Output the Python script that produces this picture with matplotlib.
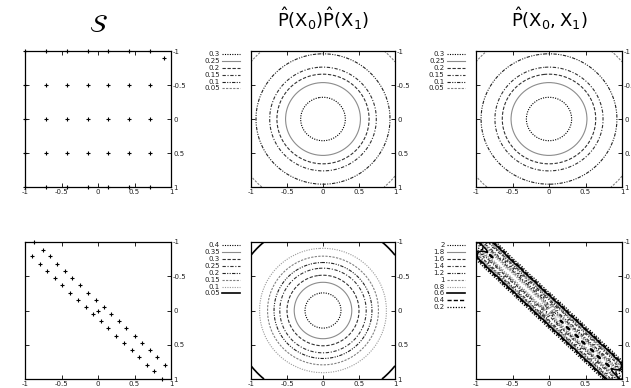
import numpy as np
import matplotlib
matplotlib.use('Agg')
import matplotlib.pyplot as plt
from matplotlib.lines import Line2D

plt.rcParams['axes.unicode_minus'] = False
plt.rcParams['mathtext.fontset'] = 'dejavusans'

# ---------------- data ----------------
tick_vals = [-1, -0.5, 0, 0.5, 1]
tick_labels = ['-1', '-0.5', '0', '0.5', '1']

# top-left sample S (grid)
grid_x = [-1.0, -0.71, -0.43, -0.14, 0.14, 0.43, 0.71]
grid_y = [-1.0, -0.5, 0.0, 0.5, 1.0]
key_x = [0.90]
key_y = [-0.90]

# bottom-left sample S (two diagonal rows)
lineA_x = [-0.91, -0.80, -0.70, -0.59, -0.49, -0.38, -0.28, -0.17, -0.07,
           0.04, 0.14, 0.25, 0.35, 0.46, 0.56, 0.67, 0.77, 0.88]
lineA_y = [-0.79, -0.68, -0.58, -0.47, -0.37, -0.26, -0.16, -0.05, 0.05,
           0.16, 0.26, 0.37, 0.47, 0.58, 0.68, 0.79, 0.89, 1.00]
lineB_x = [-0.87, -0.76, -0.66, -0.56, -0.45, -0.35, -0.24, -0.14, -0.03,
           0.08, 0.18, 0.29, 0.39, 0.50, 0.60, 0.71, 0.81, 0.92]
lineB_y = [-1.00, -0.89, -0.79, -0.68, -0.58, -0.47, -0.37, -0.26, -0.16,
           -0.05, 0.05, 0.16, 0.26, 0.37, 0.47, 0.58, 0.68, 0.79]
center_x = [0.0]
center_y = [0.0]

# contour levels and their radii
top_prod_levels = [0.3, 0.25, 0.2, 0.15, 0.1, 0.05]
top_prod_radii = [0.31, 0.52, 0.64, 0.74, 0.93, 1.29]
top_joint_levels = [0.3, 0.25, 0.2, 0.15, 0.1, 0.05]
top_joint_radii = [0.31, 0.52, 0.64, 0.74, 0.93, 1.29]
bot_prod_levels = [0.4, 0.35, 0.3, 0.25, 0.2, 0.15, 0.1, 0.05]
bot_prod_radii = [0.25, 0.40, 0.50, 0.60, 0.68, 0.77, 0.88, 1.27]
bot_joint_levels = [2, 1.8, 1.6, 1.4, 1.2, 1, 0.8, 0.6, 0.4, 0.2]
bot_joint_labels = ['2', '1.8', '1.6', '1.4', '1.2', '1', '0.8', '0.6', '0.4', '0.2']

# ---------------- styles ----------------
STYLES = [
    dict(color='black', ls=(0, (1, 1.2)), lw=0.8),
    dict(color='#8c8c8c', ls='-', lw=0.8),
    dict(color='#333333', ls=(0, (3, 1.5)), lw=0.8),
    dict(color='#333333', ls=(0, (3, 1.5, 1, 1.5)), lw=0.8),
    dict(color='#222222', ls=(0, (3, 1.2, 1, 1.2, 1, 1.2)), lw=0.8),
    dict(color='#808080', ls=(0, (2, 1.2)), lw=0.8),
    dict(color='#999999', ls=(0, (1, 1.2)), lw=0.8),
    dict(color='black', ls='-', lw=1.2),
    dict(color='black', ls=(0, (3, 1.5)), lw=1.0),
    dict(color='black', ls=(0, (1, 1.2)), lw=0.9),
]

W, H = 631, 388
fig = plt.figure(figsize=(W / 100, H / 100), dpi=100)


def add_ax(l, r, t, b):
    return fig.add_axes([l / W, 1 - b / H, (r - l) / W, (b - t) / H])


def style_ax(ax):
    ax.set_xlim(-1, 1)
    ax.set_ylim(1, -1)
    ax.set_xticks(tick_vals)
    ax.set_xticklabels(tick_labels)
    ax.set_yticks(tick_vals)
    ax.set_yticklabels(tick_labels)
    ax.tick_params(direction='in', length=3, width=0.6, top=True, right=True,
                   left=True, bottom=True, labelleft=False, labelright=True,
                   labelbottom=True, labelsize=5, pad=1.5, labelcolor='#222222')
    for s in ax.spines.values():
        s.set_linewidth(0.9)
        s.set_color('black')


cols = [(25, 171), (251, 395), (476, 622)]
rows = [(51, 187), (242, 379)]

N = 401
gx = np.linspace(-1, 1, N)
X, Y = np.meshgrid(gx, gx)
ASPECT = 1.03


def radial_field(levels, radii):
    r = np.sqrt(X ** 2 + (Y / ASPECT) ** 2)
    rr = np.array(radii)
    lv = np.array(levels)
    f = np.interp(r, rr, lv)
    f = np.where(r < rr[0], lv[0] + (rr[0] - r) * 0.2, f)
    f = np.where(r > rr[-1], lv[-1] - (r - rr[-1]) * 0.05, f)
    return f


def draw_contours(ax, Z, levels, labels):
    for i, lv in enumerate(levels):
        st = STYLES[i]
        ax.contour(X, Y, Z, levels=[lv], colors=[st['color']],
                   linestyles=[st['ls']], linewidths=[st['lw']])
    # key drawn at the left of the axes
    for i, lab in enumerate(labels):
        st = STYLES[i]
        yk = 0.975 - i * 0.05
        ax.text(-0.215, yk, lab, transform=ax.transAxes, ha='right', va='center',
                fontsize=5, color='#222222')
        ax.add_line(Line2D([-0.20, -0.075], [yk, yk], transform=ax.transAxes,
                           clip_on=False, color=st['color'], ls=st['ls'], lw=st['lw']))


# ---- top-left: grid sample
ax = add_ax(cols[0][0], cols[0][1], rows[0][0], rows[0][1])
GX, GY = np.meshgrid(grid_x, grid_y)
ax.plot(GX.ravel(), GY.ravel(), '+', color='black', ms=3.2, mew=0.8, clip_on=False)
ax.plot(key_x, key_y, '+', color='black', ms=3.2, mew=0.8)
style_ax(ax)
fig.text(98 / W, 1 - 25 / H, r'$\mathcal{S}$', fontsize=18, ha='center', va='center')

# ---- top-middle: product of marginals
ax = add_ax(cols[1][0], cols[1][1], rows[0][0], rows[0][1])
draw_contours(ax, radial_field(top_prod_levels, top_prod_radii), top_prod_levels,
              [str(v) for v in top_prod_levels])
style_ax(ax)
fig.text(323 / W, 1 - 19 / H, r'$\hat{\mathrm{P}}(\mathrm{X}_0)\hat{\mathrm{P}}(\mathrm{X}_1)$',
         fontsize=13, ha='center', va='center')

# ---- top-right: joint
ax = add_ax(cols[2][0], cols[2][1], rows[0][0], rows[0][1])
draw_contours(ax, radial_field(top_joint_levels, top_joint_radii), top_joint_levels,
              [str(v) for v in top_joint_levels])
style_ax(ax)
fig.text(549 / W, 1 - 19 / H, r'$\hat{\mathrm{P}}(\mathrm{X}_0,\mathrm{X}_1)$',
         fontsize=13, ha='center', va='center')

# ---- bottom-left: diagonal sample
ax = add_ax(cols[0][0], cols[0][1], rows[1][0], rows[1][1])
for xs, ys in [(lineA_x, lineA_y), (lineB_x, lineB_y), (center_x, center_y)]:
    ax.plot(xs, ys, '+', color='black', ms=3.2, mew=0.8, clip_on=False)
style_ax(ax)

# ---- bottom-middle: product of marginals
ax = add_ax(cols[1][0], cols[1][1], rows[1][0], rows[1][1])
draw_contours(ax, radial_field(bot_prod_levels, bot_prod_radii), bot_prod_levels,
              [str(v) for v in bot_prod_levels])
style_ax(ax)

# ---- bottom-right: joint estimate (anisotropic Parzen window on the diagonal sample)
ax = add_ax(cols[2][0], cols[2][1], rows[1][0], rows[1][1])
px = np.array(lineA_x + lineB_x + center_x)
py = np.array(lineA_y + lineB_y + center_y)
s_par, s_perp = 0.065, 0.05
U = (X + Y) / np.sqrt(2)
V = (Y - X) / np.sqrt(2)
Z = np.zeros_like(X)
for xi, yi in zip(px, py):
    ui = (xi + yi) / np.sqrt(2)
    vi = (yi - xi) / np.sqrt(2)
    Z += np.exp(-(U - ui) ** 2 / (2 * s_par ** 2) - (V - vi) ** 2 / (2 * s_perp ** 2))
Z /= (len(px) * 2 * np.pi * s_par * s_perp)
draw_contours(ax, Z, bot_joint_levels, bot_joint_labels)
style_ax(ax)

fig.savefig('out.png', dpi=100)
